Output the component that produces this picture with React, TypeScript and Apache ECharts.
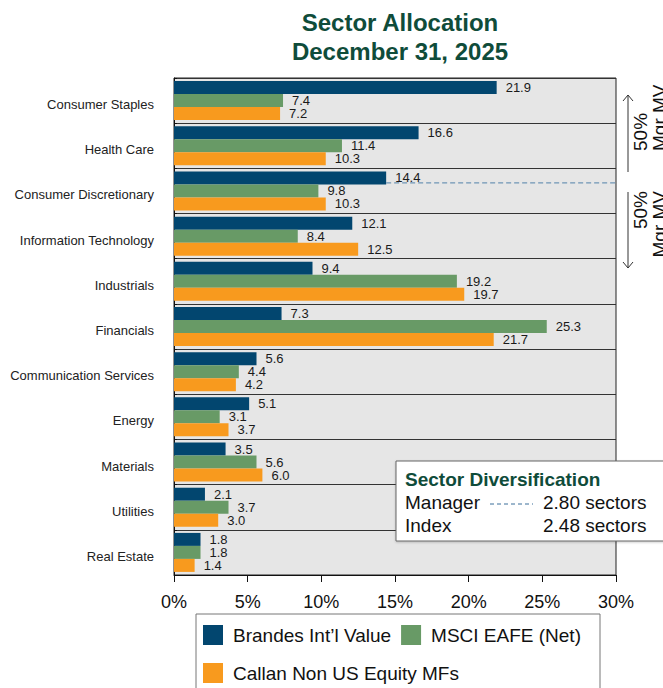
import React, { useEffect, useRef } from "react";
import * as echarts from "echarts";

const categories = [
  "Consumer Staples",
  "Health Care",
  "Consumer Discretionary",
  "Information Technology",
  "Industrials",
  "Financials",
  "Communication Services",
  "Energy",
  "Materials",
  "Utilities",
  "Real Estate",
];
const brandes = [21.9, 16.6, 14.4, 12.1, 9.4, 7.3, 5.6, 5.1, 3.5, 2.1, 1.8];
const msci = [7.4, 11.4, 9.8, 8.4, 19.2, 25.3, 4.4, 3.1, 5.6, 3.7, 1.8];
const callan = [7.2, 10.3, 10.3, 12.5, 19.7, 21.7, 4.2, 3.7, 6.0, 3.0, 1.4];
const seriesNames = ["Brandes Int\u2019l Value", "MSCI EAFE (Net)", "Callan Non US Equity MFs"];
const seriesColors = ["#02466f", "#689a66", "#f89a1e"];
const managerCutCategory = "Consumer Discretionary";
const managerCutValue = 14.4;
const diversification = [
  { label: "Manager", value: "2.80 sectors" },
  { label: "Index", value: "2.48 sectors" },
];

const FONT = "'Liberation Sans', Arial, Helvetica, sans-serif";
const TITLE_GREEN = "#0f4c3a";

export default function App() {
  const ref = useRef<HTMLDivElement>(null);

  useEffect(() => {
    if (!ref.current) return;
    const chart = echarts.init(ref.current, undefined, { renderer: "svg" });

    const mkSeries = (name: string, data: number[], color: string) => ({
      type: "bar",
      name,
      data,
      barWidth: 13,
      barGap: "0%",
      itemStyle: { color },
      label: {
        show: true,
        position: "right",
        distance: 9,
        fontSize: 13,
        fontFamily: FONT,
        color: "#1a1a1a",
        formatter: (p: any) => Number(p.value).toFixed(1),
      },
    });

    chart.setOption({
      animation: false,
      textStyle: { fontFamily: FONT },
      title: {
        text: "Sector Allocation\nDecember 31, 2025",
        left: 395,
        textAlign: "center",
        top: 3,
        textStyle: {
          fontFamily: FONT,
          fontSize: 24,
          fontWeight: "bold",
          color: TITLE_GREEN,
          lineHeight: 29,
        },
      },
      legend: [
        {
          data: [seriesNames[0], seriesNames[1]],
          left: 203,
          top: 625,
          padding: 0,
          itemWidth: 20,
          itemHeight: 20,
          itemGap: 10,
          icon: "rect",
          textStyle: { fontSize: 19, color: "#111", fontFamily: FONT, padding: [0, 0, 0, 5] },
        },
        {
          data: [seriesNames[2]],
          left: 203,
          top: 663,
          padding: 0,
          itemWidth: 20,
          itemHeight: 20,
          itemGap: 10,
          icon: "rect",
          textStyle: { fontSize: 19, color: "#111", fontFamily: FONT, padding: [0, 0, 0, 5] },
        },
      ],
      grid: {
        left: 174,
        right: 47,
        top: 78,
        bottom: 113,
        show: true,
        backgroundColor: "#e6e6e6",
        borderColor: "#222",
        borderWidth: 1,
      },
      xAxis: {
        type: "value",
        min: 0,
        max: 30,
        interval: 5,
        axisLine: { show: true, lineStyle: { color: "#111" } },
        axisTick: { show: true, length: 7, lineStyle: { color: "#111" } },
        splitLine: { show: false },
        axisLabel: {
          formatter: "{value}%",
          fontSize: 18,
          color: "#111",
          margin: 18,
          fontFamily: FONT,
        },
      },
      yAxis: {
        type: "category",
        data: categories,
        inverse: true,
        axisLine: { show: true, lineStyle: { color: "#111" } },
        axisTick: { show: true, inside: true, length: 3, lineStyle: { color: "#111" } },
        splitLine: { show: true, lineStyle: { color: "#333", width: 1 } },
        axisLabel: {
          fontSize: 13,
          color: "#222",
          margin: 20,
          fontFamily: FONT,
          verticalAlign: "top",
          lineHeight: 8,
        },
      },
      series: [
        mkSeries(seriesNames[0], brandes, seriesColors[0]),
        mkSeries(seriesNames[1], msci, seriesColors[1]),
        mkSeries(seriesNames[2], callan, seriesColors[2]),
      ],
    });

    const cutPt = chart.convertToPixel({ gridIndex: 0 }, [managerCutValue, managerCutCategory]) as number[];
    const rightPt = chart.convertToPixel({ gridIndex: 0 }, [30, managerCutCategory]) as number[];
    const dashY = cutPt[1] - 8;

    const arrowX = 628;
    const graphic: any[] = [
      {
        type: "line",
        z: 50,
        shape: { x1: cutPt[0], y1: dashY, x2: rightPt[0], y2: dashY },
        style: { stroke: "#6f95b5", lineWidth: 1.2, lineDash: [5, 3] },
      },
      {
        type: "line",
        shape: { x1: arrowX, y1: 95, x2: arrowX, y2: 172 },
        style: { stroke: "#333", lineWidth: 1 },
      },
      {
        type: "polyline",
        shape: { points: [[arrowX - 5, 101], [arrowX, 95], [arrowX + 5, 101]] },
        style: { stroke: "#333", lineWidth: 1, fill: null },
      },
      {
        type: "line",
        shape: { x1: arrowX, y1: 192, x2: arrowX, y2: 268 },
        style: { stroke: "#333", lineWidth: 1 },
      },
      {
        type: "polyline",
        shape: { points: [[arrowX - 5, 262], [arrowX, 268], [arrowX + 5, 262]] },
        style: { stroke: "#333", lineWidth: 1, fill: null },
      },
      {
        type: "text",
        x: 631,
        y: 151,
        rotation: Math.PI / 2,
        style: {
          text: "50%\nMgr MV",
          fontSize: 19,
          lineHeight: 19,
          fontFamily: FONT,
          fill: "#111",
          align: "left",
          verticalAlign: "top",
        },
      },
      {
        type: "text",
        x: 631,
        y: 191,
        rotation: Math.PI / 2,
        style: {
          text: "50%\nMgr MV",
          fontSize: 19,
          lineHeight: 19,
          fontFamily: FONT,
          fill: "#111",
          align: "right",
          verticalAlign: "top",
        },
      },
      {
        type: "rect",
        z: 60,
        shape: { x: 396, y: 461, width: 290, height: 80 },
        style: { fill: "#fff", stroke: "#666", lineWidth: 1, shadowBlur: 2, shadowColor: "rgba(0,0,0,0.2)", shadowOffsetY: 1 },
      },
      {
        type: "text",
        z: 61,
        x: 405,
        y: 479,
        style: {
          text: "Sector Diversification",
          fontSize: 19,
          fontWeight: "bold",
          fontFamily: FONT,
          fill: TITLE_GREEN,
          verticalAlign: "middle",
        },
      },
      {
        type: "text",
        z: 61,
        x: 405,
        y: 502,
        style: { text: diversification[0].label, fontSize: 19, fontFamily: FONT, fill: "#111", verticalAlign: "middle" },
      },
      {
        type: "line",
        z: 61,
        shape: { x1: 490, y1: 504, x2: 533, y2: 504 },
        style: { stroke: "#3b6f9a", lineWidth: 1, lineDash: [4, 3] },
      },
      {
        type: "text",
        z: 61,
        x: 543,
        y: 502,
        style: { text: diversification[0].value, fontSize: 19, fontFamily: FONT, fill: "#111", verticalAlign: "middle" },
      },
      {
        type: "text",
        z: 61,
        x: 405,
        y: 525,
        style: { text: diversification[1].label, fontSize: 19, fontFamily: FONT, fill: "#111", verticalAlign: "middle" },
      },
      {
        type: "text",
        z: 61,
        x: 543,
        y: 525,
        style: { text: diversification[1].value, fontSize: 19, fontFamily: FONT, fill: "#111", verticalAlign: "middle" },
      },
      {
        type: "rect",
        z: -10,
        shape: { x: 196, y: 614, width: 404, height: 90 },
        style: { fill: "#fff", stroke: "#777", lineWidth: 1 },
      },
    ];
    chart.setOption({ graphic });

    return () => chart.dispose();
  }, []);

  return (
    <div
      ref={ref}
      style={{ position: "fixed", left: 0, top: 0, width: 663, height: 688, background: "#fff" }}
    />
  );
}
